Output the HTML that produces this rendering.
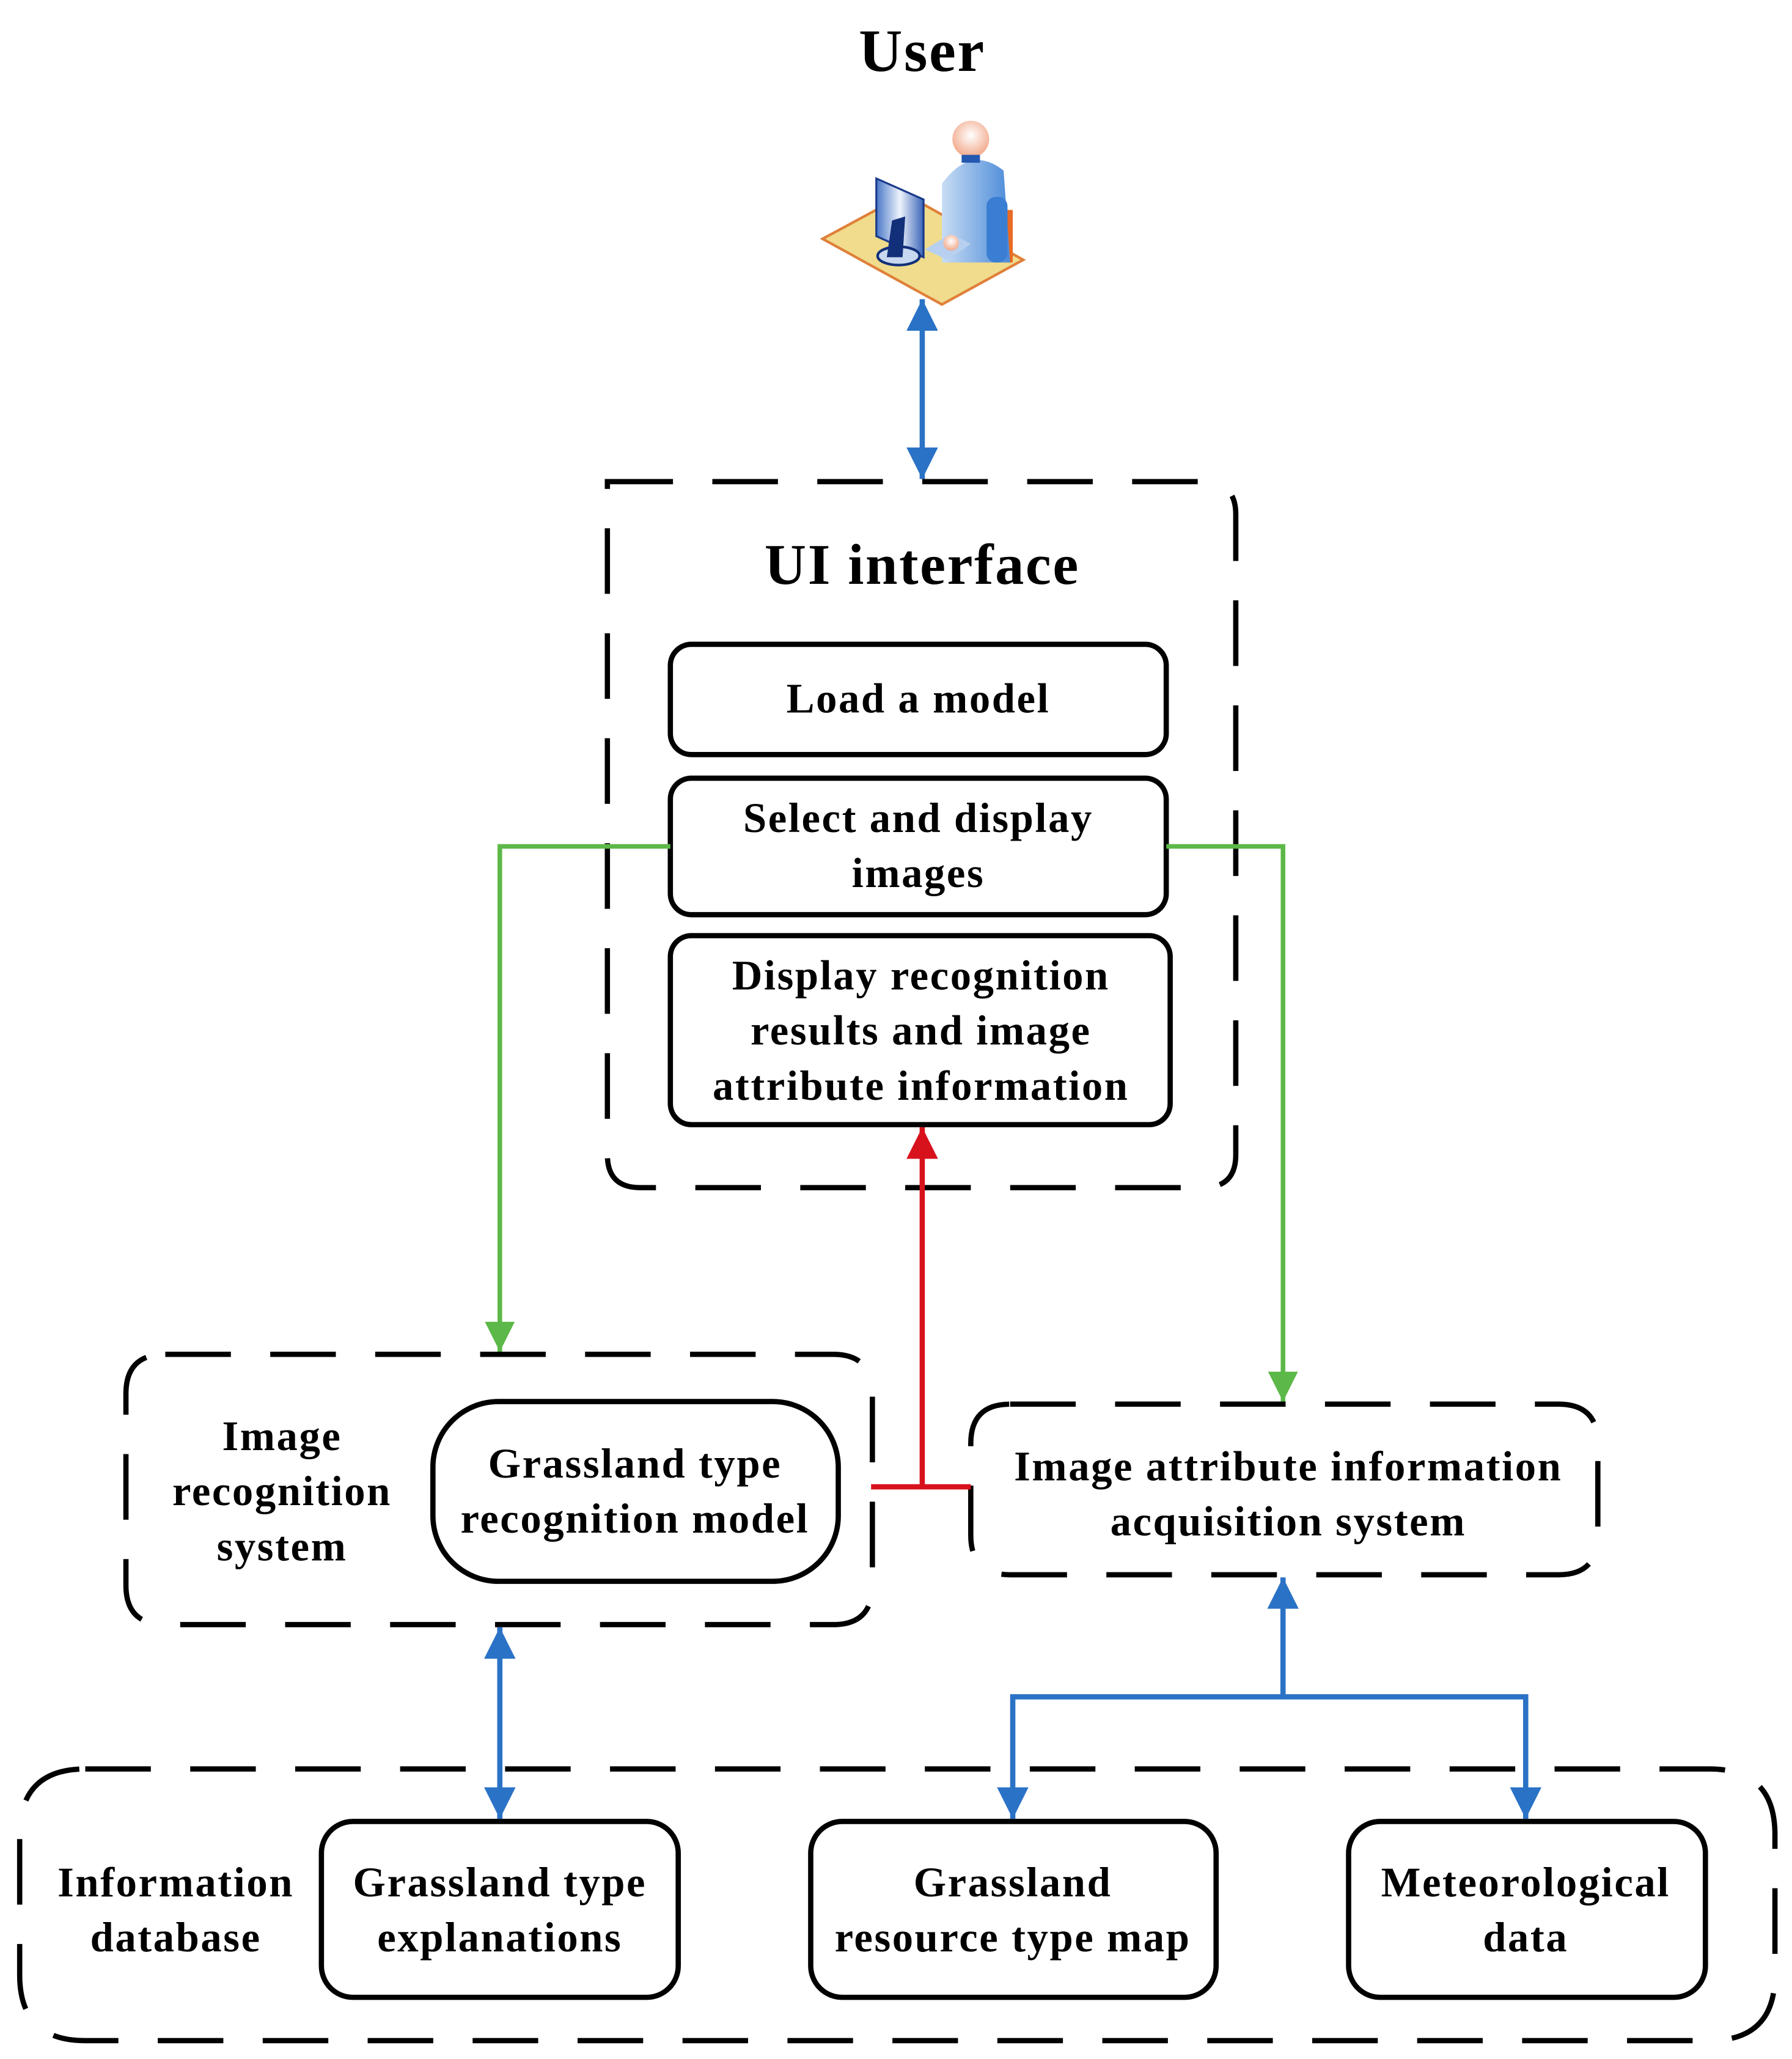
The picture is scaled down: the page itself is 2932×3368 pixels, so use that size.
<!DOCTYPE html>
<html><head><meta charset="utf-8"><style>
html,body{margin:0;padding:0;background:#fff}
svg{display:block}
text{font-family:"Liberation Serif",serif;font-weight:bold;fill:#000;text-anchor:middle;letter-spacing:1.2px}
</style></head><body>
<svg width="2932" height="3368" viewBox="0 0 1366 1569" preserveAspectRatio="none" xmlns="http://www.w3.org/2000/svg">
<defs>
<marker id="bl" viewBox="0 0 10 10" refX="10" refY="5" markerWidth="6" markerHeight="6" orient="auto-start-reverse" markerUnits="strokeWidth"><path d="M0,0L10,5L0,10z" fill="#2a72c6"/></marker>
<marker id="gr" viewBox="0 0 10 10" refX="10" refY="5" markerWidth="6.5" markerHeight="7" orient="auto" markerUnits="strokeWidth"><path d="M0,0L10,5L0,10z" fill="#5cb848"/></marker>
<marker id="rd" viewBox="0 0 10 10" refX="10" refY="5" markerWidth="6" markerHeight="6" orient="auto" markerUnits="strokeWidth"><path d="M0,0L10,5L0,10z" fill="#d8121c"/></marker>
<radialGradient id="head" cx="0.5" cy="0.4" r="0.6"><stop offset="0" stop-color="#fff"/><stop offset="1" stop-color="#f2a88a"/></radialGradient>
<linearGradient id="body" x1="0" x2="1"><stop offset="0" stop-color="#c8dcf4"/><stop offset="1" stop-color="#4a8ad8"/></linearGradient>
<linearGradient id="mon" x1="0" x2="1"><stop offset="0" stop-color="#4a78c8"/><stop offset="0.5" stop-color="#eef3fc"/><stop offset="1" stop-color="#3a64b8"/></linearGradient>
</defs>

<text x="703" y="54" font-size="46">User</text>

<!-- user icon -->
<polygon points="627,182 690,148 780,198 718,232" fill="#f0dc8c" stroke="#e0803a" stroke-width="2"/>
<rect x="760" y="160" width="12" height="40" fill="#e86a24"/>
<path d="M718,200 L718,140 Q740,110 765,130 L770,200 Z" fill="url(#body)"/>
<rect x="752" y="150" width="16" height="50" rx="7" fill="#3a7ed4"/>
<circle cx="740" cy="106" r="14" fill="url(#head)"/>
<rect x="733" y="118" width="14" height="6" fill="#2458b0"/>
<polygon points="668,136 704,152 704,196 668,180" fill="url(#mon)" stroke="#1a3a8a" stroke-width="1.5"/>
<ellipse cx="685" cy="195" rx="16" ry="7" fill="#c8d8f0" stroke="#12307a" stroke-width="2"/>
<polygon points="680,168 690,165 688,196 676,196" fill="#12307a"/>
<polygon points="705,190 725,178 740,186 722,198" fill="#b8d0f0"/>
<circle cx="725" cy="185" r="6" fill="url(#head)"/>

<line x1="703" y1="228" x2="703" y2="365" stroke="#2a72c6" stroke-width="4" marker-start="url(#bl)" marker-end="url(#bl)"/>

<g fill="none" stroke="#000" stroke-width="4" stroke-dasharray="50,30">
<path d="M463,367 L917,367 Q942,367 942,392 L942,880 Q942,905 917,905 L488,905 Q463,905 463,880 Z"/>
<path d="M126,1032 L635,1032 Q665,1032 665,1062 L665,1208 Q665,1238 635,1238 L126,1238 Q96,1238 96,1208 L96,1062 Q96,1032 126,1032 Z"/>
<path d="M770,1070 L1188,1070 Q1218,1070 1218,1100 L1218,1170 Q1218,1200 1188,1200 L770,1200 Q740,1200 740,1170 L740,1100 Q740,1070 770,1070 Z"/>
<path d="M65,1348 L1303,1348 Q1353,1348 1353,1398 L1353,1505 Q1353,1555 1303,1555 L65,1555 Q15,1555 15,1505 L15,1398 Q15,1348 65,1348 Z"/>
</g>

<text x="703" y="445" font-size="44">UI interface</text>

<g fill="#fff" stroke="#000" stroke-width="4">
<rect x="511" y="491" width="378" height="84" rx="16"/>
<rect x="511" y="593" width="378" height="104" rx="16"/>
<rect x="511" y="713" width="381" height="144" rx="16"/>
<rect x="330" y="1068" width="309" height="137" rx="50"/>
<rect x="245" y="1388" width="272" height="134" rx="24"/>
<rect x="618" y="1388" width="309" height="134" rx="24"/>
<rect x="1028" y="1388" width="272" height="134" rx="24"/>
</g>

<g font-size="32">
<text x="700" y="543">Load a model</text>
<text x="700" y="634">Select and display</text>
<text x="700" y="676">images</text>
<text x="702" y="754">Display recognition</text>
<text x="702" y="796">results and image</text>
<text x="702" y="838">attribute information</text>
<text x="215" y="1105">Image</text>
<text x="215" y="1147">recognition</text>
<text x="215" y="1189">system</text>
<text x="484" y="1126">Grassland type</text>
<text x="484" y="1168">recognition model</text>
<text x="982" y="1128">Image attribute information</text>
<text x="982" y="1170">acquisition system</text>
<text x="134" y="1445">Information</text>
<text x="134" y="1487">database</text>
<text x="381" y="1445">Grassland type</text>
<text x="381" y="1487">explanations</text>
<text x="772" y="1445">Grassland</text>
<text x="772" y="1487">resource type map</text>
<text x="1163" y="1445">Meteorological</text>
<text x="1163" y="1487">data</text>
</g>

<polyline points="511,645 381,645 381,1030" fill="none" stroke="#5cb848" stroke-width="3.5" marker-end="url(#gr)"/>
<polyline points="889,645 978,645 978,1068" fill="none" stroke="#5cb848" stroke-width="3.5" marker-end="url(#gr)"/>

<line x1="664" y1="1133" x2="740" y2="1133" stroke="#d8121c" stroke-width="4"/>
<line x1="703" y1="1133" x2="703" y2="859" stroke="#d8121c" stroke-width="4" marker-end="url(#rd)"/>

<line x1="381" y1="1240" x2="381" y2="1386" stroke="#2a72c6" stroke-width="4" marker-start="url(#bl)" marker-end="url(#bl)"/>
<line x1="978" y1="1293" x2="978" y2="1202" stroke="#2a72c6" stroke-width="4" marker-end="url(#bl)"/>
<polyline points="772,1386 772,1293 1163,1293 1163,1386" fill="none" stroke="#2a72c6" stroke-width="4" marker-start="url(#bl)" marker-end="url(#bl)"/>
</svg>
</body></html>
